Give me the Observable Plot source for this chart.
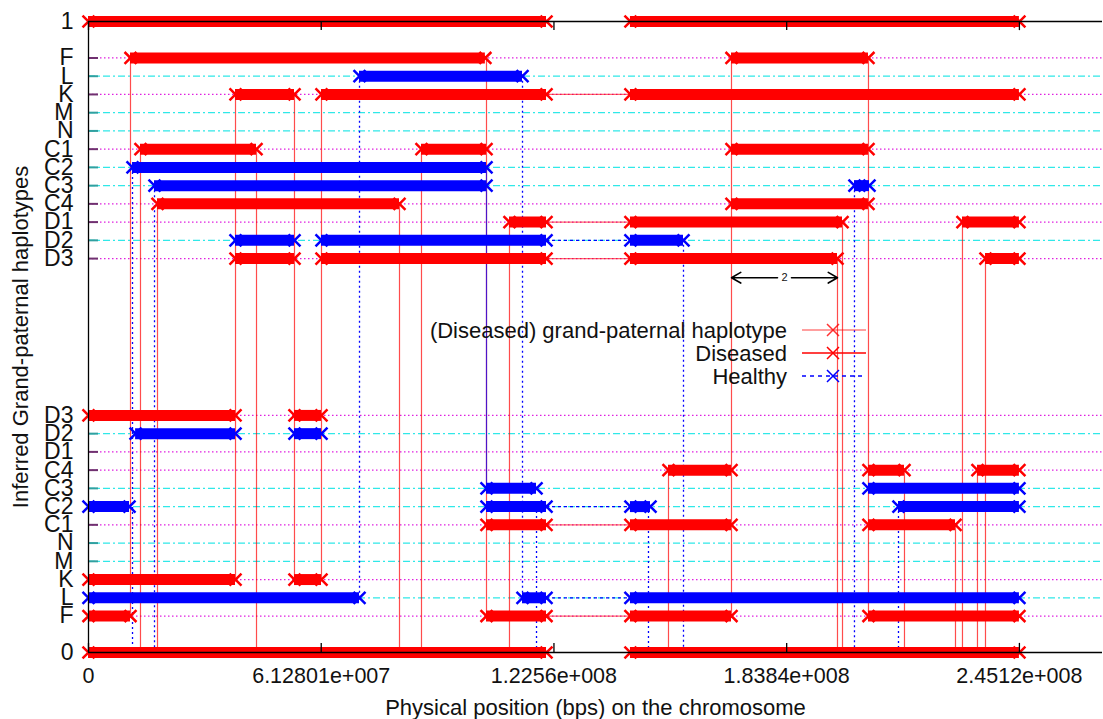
<!DOCTYPE html>
<html><head><meta charset="utf-8">
<script src="https://cdn.jsdelivr.net/npm/d3@7"></script>
<script src="https://cdn.jsdelivr.net/npm/@observablehq/plot@0.6"></script>
<style>body{margin:0;background:#fff;} svg{display:block;}</style>
</head><body><div id="chart"></div>
<script>
// ---------- data (positions in Mb) ----------
const upperRows = ["F","L","K","M","N","C1","C2","C3","C4","D1","D2","D3"];
const lowerRows = ["D3","D2","D1","C4","C3","C2","C1","N","M","K","L","F"];
const dottedHaps = ["F","K","C1","C4","D1","D3"];
const xTickValues = [0, 61.2801, 122.56, 183.84, 245.12];
const xTickLabels = ["0","6.12801e+007","1.2256e+008","1.8384e+008","2.4512e+008"];
const xLabel = "Physical position (bps) on the chromosome";
const yLabel = "Inferred Grand-paternal haplotypes";
const legendLabels = ["(Diseased) grand-paternal haplotype","Diseased","Healthy"];

const diseasedSegments = [
  ["top",0,120.6],["top",142.7,245.12],
  ["uF",11.06,104.5],["uF",169.31,205.38],
  ["uK",38.71,54.24],["uK",61.35,120.6],["uK",142.7,245.12],
  ["uC1",13.69,44.24],["uC1",87.68,104.8],["uC1",169.31,205.38],
  ["uC4",18.17,81.89],["uC4",169.31,205.38],
  ["uD1",110.85,120.6],["uD1",142.7,198.54],["uD1",230.13,245.12],
  ["uD3",38.71,54.24],["uD3",61.35,120.6],["uD3",142.7,197.22],["uD3",236.19,245.12],
  ["lD3",0,38.71],["lD3",54.24,61.35],
  ["lC4",152.72,169.31],["lC4",205.38,214.86],["lC4",234.08,245.12],
  ["lC1",104.8,120.6],["lC1",142.7,169.31],["lC1",205.38,228.29],
  ["lK",0,38.71],["lK",54.24,61.35],
  ["lF",0,11.06],["lF",104.8,120.6],["lF",142.7,169.31],["lF",205.38,245.12],
  ["bottom",0,120.6],["bottom",142.7,245.12]
];
const healthySegments = [
  ["uL",71.36,114.28],
  ["uC2",11.59,104.8],
  ["uC3",17.38,104.8],["uC3",201.69,205.64],
  ["uD2",38.71,54.24],["uD2",61.35,120.6],["uD2",142.7,156.67],
  ["lD2",12.4,38.71],["lD2",54.24,61.35],
  ["lC3",104.8,117.97],["lC3",205.38,245.12],
  ["lC2",0,10.8],["lC2",104.8,120.6],["lC2",142.7,147.98],["lC2",213.28,245.12],
  ["lL",0,71.36],["lL",114.28,120.6],["lL",142.7,245.12]
];
const diseasedLinks = [["uK",120.6,142.7],["uD1",120.6,142.7],["uD3",120.6,142.7],["lC1",120.6,142.7],["lF",120.6,142.7]];
const healthyLinks = [["uD2",120.6,142.7],["lC2",120.6,142.7],["lL",120.6,142.7]];

const diseasedVerticals = [
  [11.06,"uF","lF"],[13.69,"uC1","bottom"],[18.17,"uC4","bottom"],[38.71,"uK","lK"],
  [44.24,"uC1","bottom"],[54.24,"uK","lK"],[61.35,"uK","lK"],[81.89,"uC4","bottom"],
  [87.68,"uC1","bottom"],[104.8,"uF","lF"],[110.85,"uD1","bottom"],[152.72,"lC4","bottom"],
  [169.31,"uF","lF"],[197.22,"uD3","bottom"],[198.54,"uD1","bottom"],[205.38,"uF","lF"],
  [214.86,"lC4","bottom"],[228.29,"lC1","bottom"],[230.13,"uD1","bottom"],
  [234.08,"lC4","bottom"],[236.19,"uD3","bottom"]
];
const healthyVerticals = [
  [11.59,"uC2","bottom"],[17.38,"uC3","bottom"],[71.36,"uL","lL"],[114.28,"uL","lL"],
  [117.97,"lC2","bottom"],[147.45,"lC2","bottom"],[156.67,"uD2","bottom"],
  [201.69,"uC3","bottom"],[213.28,"lC2","bottom"]
];
const healthySolidVerticals = [[104.8,"uC2","lC3"]];
const spanNote = {from:169.31, to:197.22, label:"2", row:"uD3"};

// ---------- layout helpers ----------
const rowY = new Map();
const rowLabel = new Map();
rowY.set("top", 34.6); rowLabel.set(34.6, "1");
upperRows.forEach((r,i)=>{ const y = 32.6 - i; rowY.set("u"+r, y); rowLabel.set(y, r); });
lowerRows.forEach((r,i)=>{ const y = 13 - i; rowY.set("l"+r, y); rowLabel.set(y, r); });
rowY.set("bottom", 0); rowLabel.set(0, "0");
const gridRows = [...upperRows.map(r=>({id:"u"+r,name:r})), ...lowerRows.map(r=>({id:"l"+r,name:r}))]
  .map(d=>({y: rowY.get(d.id), dotted: dottedHaps.includes(d.name)}));
const dottedRows = gridRows.filter(d=>d.dotted);
const dashRows = gridRows.filter(d=>!d.dotted);
const ends = segs => segs.flatMap(([r,a,b]) => [{x:a,y:rowY.get(r)},{x:b,y:rowY.get(r)}]);
const mid = (spanNote.from + spanNote.to)/2;
const noteY = rowY.get(spanNote.row) - 1.05;

const RED = "#ff0000", BLUE = "#0000ff";
const FONT = "'Liberation Sans', Arial, Helvetica, sans-serif";

const chart = Plot.plot({
  width: 1103, height: 719,
  marginLeft: 88, marginRight: 1, marginTop: 21, marginBottom: 67,
  style: {fontFamily: FONT, fontSize: "21.5px", color: "#111", background: "#fff"},
  x: {domain: [0, 267]},
  y: {domain: [0, 34.6]},
  marks: [
    Plot.ruleY(dottedRows, {y: "y", stroke: "#e020e0", strokeDasharray: "1.5,2.5", strokeWidth: 1.2}),
    Plot.ruleY(dashRows, {y: "y", stroke: "#30e8e8", strokeDasharray: "7,3,2,3", strokeWidth: 1.3}),
    Plot.tickY(dottedRows, {y: "y", stroke: "#703070", strokeWidth: 2, insetRight: 1004}),
    Plot.tickY(dashRows, {y: "y", stroke: "#30a0a0", strokeWidth: 2, insetRight: 1004}),
    Plot.ruleX(diseasedVerticals, {x: d=>d[0], y1: d=>rowY.get(d[1]), y2: d=>rowY.get(d[2]), stroke: RED, strokeOpacity: 0.7, strokeWidth: 1.2}),
    Plot.ruleX(healthyVerticals, {x: d=>d[0], y1: d=>rowY.get(d[1]), y2: d=>rowY.get(d[2]), stroke: BLUE, strokeDasharray: "2,3", strokeWidth: 1.3}),
    Plot.ruleX(healthySolidVerticals, {x: d=>d[0], y1: d=>rowY.get(d[1]), y2: d=>rowY.get(d[2]), stroke: BLUE, strokeOpacity: 0.7, strokeWidth: 1.2}),
    Plot.ruleY(diseasedLinks, {y: d=>rowY.get(d[0]), x1: d=>d[1], x2: d=>d[2], stroke: RED, strokeOpacity: 0.6, strokeWidth: 1.2}),
    Plot.ruleY(healthyLinks, {y: d=>rowY.get(d[0]), x1: d=>d[1], x2: d=>d[2], stroke: BLUE, strokeDasharray: "3,3", strokeWidth: 1.2}),
    Plot.ruleY(diseasedSegments, {y: d=>rowY.get(d[0]), x1: d=>d[1], x2: d=>d[2], stroke: RED, strokeWidth: 11}),
    Plot.ruleY(healthySegments, {y: d=>rowY.get(d[0]), x1: d=>d[1], x2: d=>d[2], stroke: BLUE, strokeWidth: 11}),
    Plot.dot(ends(diseasedSegments), {x: "x", y: "y", symbol: "times", r: 5.5, stroke: RED, strokeWidth: 2.5}),
    Plot.dot(ends(healthySegments), {x: "x", y: "y", symbol: "times", r: 5.5, stroke: BLUE, strokeWidth: 2.5}),
    // frame
    Plot.ruleY([0, 34.6], {stroke: "#000", strokeWidth: 1.3}),
    Plot.ruleX([0], {y1: 0, y2: 34.6, stroke: "#000", strokeWidth: 1.3}),
    Plot.ruleX(xTickValues, {y1: 0, y2: 0.5, stroke: "#000", strokeWidth: 1.3}),
    Plot.ruleX(xTickValues, {y1: 34.1, y2: 34.6, stroke: "#000", strokeWidth: 1.3}),
    // axes
    Plot.axisX(xTickValues, {tickFormat: d=>xTickLabels[xTickValues.indexOf(d)], tickSize: 0, tickPadding: 15, label: null}),
    Plot.axisY([...rowLabel.keys()], {tickFormat: d=>rowLabel.get(d), tickSize: 0, tickPadding: 15, label: null, fontSize: 23}),
    Plot.text([xLabel], {text: d=>d, frameAnchor: "bottom", lineAnchor: "middle", textAnchor: "middle", dy: 55, fontSize: 22}),
    Plot.text([yLabel], {text: d=>d, frameAnchor: "left", lineAnchor: "middle", textAnchor: "middle", dx: -68, rotate: -90, fontSize: 22}),
    // span annotation
    Plot.arrow([spanNote], {x1: mid, y1: noteY, x2: d=>d.from, y2: noteY, insetStart: 7, stroke: "#000", strokeWidth: 1.6, headLength: 10}),
    Plot.arrow([spanNote], {x1: mid, y1: noteY, x2: d=>d.to, y2: noteY, insetStart: 7, stroke: "#000", strokeWidth: 1.6, headLength: 10}),
    Plot.text([spanNote], {x: mid, y: noteY, text: "label", fontSize: 11})
  ]
});
document.getElementById("chart").appendChild(chart);

// legend (inside plot, right-aligned text)
const svg = d3.select(chart);
const lg = svg.append("g").attr("font-family", FONT).attr("font-size", 22).attr("fill", "#111");
const legendStyles = [
  {stroke: RED, opacity: 0.5, dash: null},
  {stroke: RED, opacity: 1, dash: null},
  {stroke: BLUE, opacity: 1, dash: "4,4"}
];
legendLabels.forEach((t, i) => {
  const y = 330 + i * 23;
  lg.append("text").attr("x", 787).attr("y", y).attr("dy", "0.35em").attr("text-anchor", "end").text(t);
  const s = legendStyles[i];
  lg.append("line").attr("x1", 802).attr("x2", 866).attr("y1", y).attr("y2", y)
    .attr("stroke", s.stroke).attr("stroke-opacity", s.opacity).attr("stroke-width", 1.3)
    .attr("stroke-dasharray", s.dash);
  lg.append("path").attr("d", `M827,${y-6}L839,${y+6}M827,${y+6}L839,${y-6}`)
    .attr("stroke", s.stroke).attr("stroke-opacity", s.opacity === 1 ? 1 : 0.8).attr("stroke-width", 1.5).attr("fill", "none");
});
</script>
</body></html>
